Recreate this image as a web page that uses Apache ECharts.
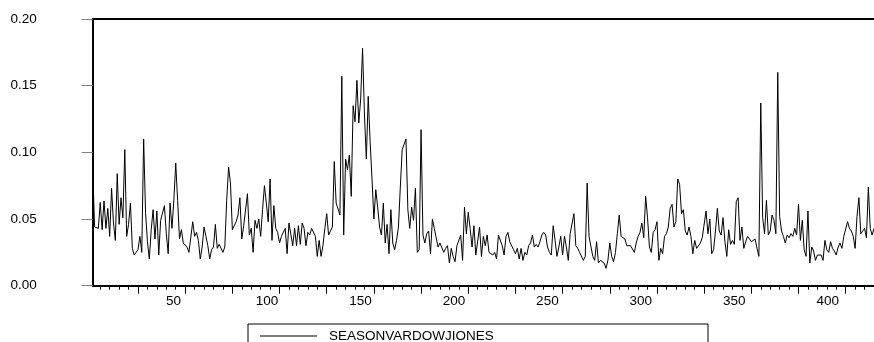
<!DOCTYPE html>
<html><head><meta charset="utf-8">
<script src="https://cdn.jsdelivr.net/npm/echarts@6/dist/echarts.min.js"></script>
<style>html,body{margin:0;padding:0;background:#fff}#c{width:874px;height:342px}</style>
</head><body><div id="c"></div>
<script>
const seriesName = 'SEASONVARDOWJIONES';
const firstObs = 6;
const seg1 = [0.088,0.044,0.0435,0.043,0.0625,0.042,0.0635,0.043,0.058,0.037,0.073,0.047,0.034,0.084,0.046,0.066,0.051,0.102,0.037,0.046,0.062,0.028,0.023,0.025,0.027,0.037,0.025,0.110,0.055,0.033,0.020,0.042,0.057,0.035,0.056,0.023,0.049,0.048,0.060,0.039,0.024,0.062,0.043,0.064,0.092,0.064,0.035,0.042,0.032,0.032];
const seg2 = [0.029,0.025,0.024,0.048,0.037,0.040,0.034,0.020,0.029,0.044,0.037,0.030,0.020,0.027,0.029,0.046,0.028,0.031,0.030,0.025,0.029,0.064,0.089,0.077,0.042,0.041,0.048,0.053,0.066,0.035,0.045,0.044,0.069,0.038,0.043,0.025,0.049,0.043,0.050,0.037,0.057,0.075,0.062,0.048,0.080,0.034,0.060,0.043,0.040,0.032,0.037,0.038];
const seg3 = [0.043,0.024,0.047,0.048,0.030,0.043,0.030,0.045,0.031,0.047,0.043,0.030,0.040,0.038,0.043,0.044,0.037,0.022,0.034,0.022,0.030,0.043,0.054,0.038,0.039,0.044,0.093,0.062,0.063,0.053,0.157,0.038,0.095,0.087,0.098,0.067,0.135,0.123,0.154,0.122,0.140,0.178,0.128,0.095,0.142,0.108,0.080,0.050,0.072,0.059,0.044,0.038];
const seg4 = [0.062,0.032,0.046,0.024,0.057,0.032,0.027,0.034,0.044,0.074,0.102,0.102,0.110,0.057,0.043,0.059,0.049,0.073,0.025,0.027,0.117,0.038,0.032,0.039,0.041,0.024,0.050,0.043,0.044,0.029,0.032,0.033,0.025,0.028,0.030,0.017,0.028,0.022,0.018,0.030,0.029,0.038,0.019,0.059,0.039,0.055,0.043,0.029,0.045,0.023,0.022];
const seg5 = [0.044,0.022,0.037,0.030,0.038,0.025,0.024,0.023,0.025,0.020,0.038,0.039,0.030,0.023,0.037,0.040,0.033,0.033,0.027,0.024,0.028,0.020,0.028,0.019,0.025,0.023,0.030,0.032,0.038,0.029,0.031,0.029,0.033,0.038,0.040,0.038,0.029,0.025,0.023,0.045,0.034,0.022,0.029,0.037,0.023,0.037,0.029,0.019,0.039,0.040];
const seg6 = [0.054,0.030,0.028,0.025,0.024,0.019,0.022,0.077,0.037,0.037,0.022,0.019,0.033,0.017,0.019,0.018,0.017,0.013,0.019,0.032,0.022,0.018,0.025,0.039,0.053,0.037,0.038,0.035,0.030,0.030,0.030,0.029,0.025,0.032,0.037,0.040,0.047,0.036,0.067,0.051,0.029,0.025,0.040,0.042,0.048,0.019,0.028,0.024,0.037];
const seg7 = [0.039,0.044,0.058,0.061,0.044,0.048,0.080,0.076,0.054,0.057,0.041,0.038,0.044,0.037,0.024,0.034,0.028,0.029,0.032,0.036,0.037,0.056,0.039,0.050,0.024,0.027,0.041,0.058,0.041,0.038,0.051,0.033,0.022,0.042,0.031,0.034,0.031,0.063,0.066,0.034,0.044,0.028,0.033,0.037,0.038,0.033,0.033,0.035,0.028,0.022,0.137,0.051,0.039,0.064,0.038,0.041];
const seg8 = [0.053,0.049,0.039,0.160,0.052,0.041,0.037,0.032,0.038,0.036,0.039,0.037,0.043,0.038,0.061,0.034,0.049,0.027,0.022,0.056,0.017,0.029,0.026,0.019,0.023,0.022,0.023,0.019,0.034,0.027,0.025,0.033,0.028,0.026,0.023,0.029,0.032,0.028,0.037,0.038,0.048,0.043,0.041,0.037,0.028,0.052,0.066,0.039,0.041,0.043,0.036,0.074,0.043,0.038,0.043];

const xLabels = [50,100,150,200,250,300,350,400];
const minorTicks = [10,15,20,25,30,35,40,45,50,55,60,65,70,75,80,85,90,95,100,105,110,115,120,125,130,135,140,145,150,155,160,165,170,175,180,185,190,195,200,205,210,215,220,225,230,235,240,245,250,255,260,265,270,275,280,285,290,295,300,305,310,315,320,325,330,335,340,345,350,355,360,365,370,375,380,385,390,395,400,405,410,415,420];
const majorTicks = [30,55,80,105,130,155,180,205,230,255,280,305,330,355,380,405];
const yTicks = [0, 0.05, 0.10, 0.15, 0.20];

const values = [].concat(seg1, seg2, seg3, seg4, seg5, seg6, seg7, seg8);
const data = values.map((v, i) => [firstObs + i, v]);
const lastObs = firstObs + values.length - 1;
// label scale of the reference (labels are spaced slightly tighter than the ticks)
const labelMin = 6.8, labelMax = 424.7;

const font = 'Liberation Sans, Arial, sans-serif';
const chart = echarts.init(document.getElementById('c'), null, {renderer: 'canvas'});
chart.setOption({
  animation: false,
  backgroundColor: '#fff',
  grid: {left: 92.7, right: 0, top: 19, bottom: 56.3},
  xAxis: [
    {type: 'value', min: firstObs, max: lastObs, position: 'bottom',
     axisLine: {show: true, lineStyle: {color: '#000', width: 2}},
     axisTick: {show: true, customValues: minorTicks, length: 4, lineStyle: {color: '#000', width: 1}},
     axisLabel: {show: false},
     splitLine: {show: false}},
    {type: 'value', min: firstObs, max: lastObs, position: 'bottom',
     axisLine: {show: false},
     axisTick: {show: true, customValues: majorTicks, length: 8, lineStyle: {color: '#000', width: 1}},
     axisLabel: {show: false},
     splitLine: {show: false}},
    {type: 'value', min: labelMin, max: labelMax, position: 'bottom',
     axisLine: {show: false}, axisTick: {show: false},
     axisLabel: {show: true, customValues: xLabels, margin: 9, color: '#000', fontSize: 13.5, fontFamily: font},
     splitLine: {show: false}},
    {type: 'value', min: firstObs, max: lastObs, position: 'top',
     axisLine: {show: true, lineStyle: {color: '#000', width: 2}},
     axisTick: {show: false}, axisLabel: {show: false}, splitLine: {show: false}}
  ],
  yAxis: {type: 'value', min: 0, max: 0.2, interval: 0.05,
    axisLine: {show: true, lineStyle: {color: '#000', width: 2}},
    axisTick: {show: true, length: 11, lineStyle: {color: '#808080', width: 1}},
    axisLabel: {margin: 56, color: '#000', fontSize: 13.5, fontFamily: font,
      formatter: v => v.toFixed(2)},
    splitLine: {show: false}},
  legend: {show: true, left: 260, top: 329, padding: 0, itemWidth: 57, itemHeight: 12,
    textStyle: {color: '#000', fontSize: 13.5, fontFamily: font, padding: [0, 0, 0, 7]},
    data: [{name: seriesName, icon: 'path://M0,5 L57,5 L57,6 L0,6 Z'}]},
  graphic: [{type: 'rect', shape: {x: 248, y: 324, width: 460, height: 30},
    style: {fill: 'none', stroke: '#000', lineWidth: 1}, silent: true}],
  series: [{name: seriesName, type: 'line', xAxisIndex: 0, data: data,
    symbol: 'none', lineStyle: {color: '#000', width: 1}, itemStyle: {color: '#000'}}]
});
</script></body></html>
